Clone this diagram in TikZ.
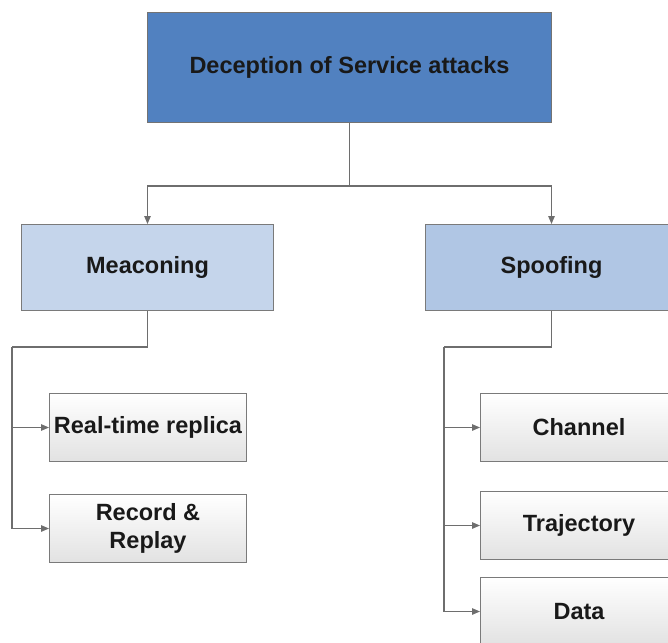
\documentclass[tikz,border=0pt]{standalone}
\usepackage{fontspec}
\setmainfont{Liberation Sans}
\usetikzlibrary{arrows.meta}
\definecolor{topblue}{HTML}{5181C0}
\definecolor{meablue}{HTML}{C5D5EB}
\definecolor{spoblue}{HTML}{B0C6E4}
\definecolor{leafgray}{HTML}{E2E2E2}
\definecolor{bordergray}{HTML}{7A7A7A}
\definecolor{linegray}{HTML}{6E6E6E}
\tikzset{
  box/.style={draw=bordergray, line width=1pt, inner sep=0pt, align=center,
    font=\bfseries\fontsize{23.5}{27.5}\selectfont, text=black!90, anchor=north west},
  topbox/.style={box, fill=topblue, draw=black!55, minimum width=404pt, minimum height=110pt},
  midbox/.style={box, minimum width=252pt, minimum height=86pt},
  leafbox/.style={box, top color=white, bottom color=leafgray, minimum width=197pt, minimum height=68pt},
  conn/.style={draw=linegray, line width=1.2pt},
  arr/.style={conn, -{Triangle[length=8pt,width=6.5pt]}}
}
\begin{document}
\begin{tikzpicture}[x=1pt,y=-1pt]
\clip (0,0) rectangle (668,642);
\fill[white] (0,0) rectangle (668,642);
\node[topbox] (top) at (147,12) {Deception of Service attacks};
\node[midbox, fill=meablue] (mea) at (21,224) {Meaconing};
\node[midbox, fill=spoblue] (spo) at (425,224) {Spoofing};
\node[leafbox] (rtr) at (49,393) {Real-time replica};
\node[leafbox] (rr) at (49,494) {Record \&\\Replay};
\node[leafbox] (ch) at (480,393) {Channel};
\node[leafbox] (tr) at (480,491) {Trajectory};
\node[leafbox] (da) at (480,577) {Data};
\draw[conn] (top.south) -- ++(0,63) coordinate (j0);
\coordinate (mt) at (12,347);
\coordinate (st) at (444,347);
\draw[arr] (j0) -| (mea.north);
\draw[arr] (j0) -| (spo.north);
\draw[conn] (mea.south) |- (mt);
\draw[arr] (mt) |- (rtr.west);
\draw[arr] (mt) |- (rr.west);
\draw[conn] (spo.south) |- (st);
\draw[arr] (st) |- (ch.west);
\draw[arr] (st) |- (tr.west);
\draw[arr] (st) |- (da.west);
\end{tikzpicture}
\end{document}
